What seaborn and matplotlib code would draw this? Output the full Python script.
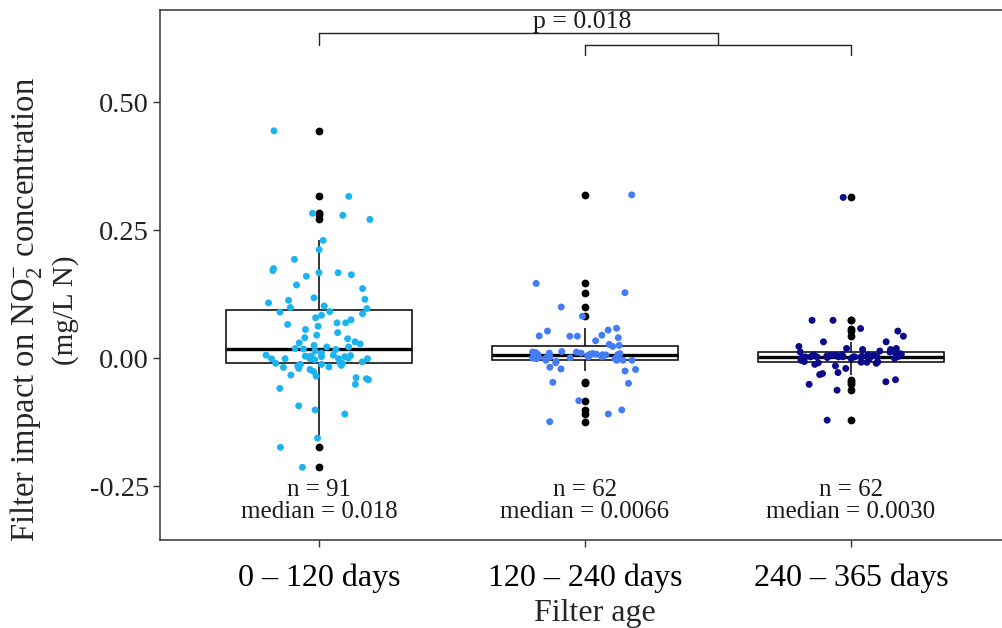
import numpy as np
import pandas as pd
import matplotlib
matplotlib.use("Agg")
import matplotlib.pyplot as plt
import seaborn as sns

# ---------------- data ----------------
categories = ["0 \u2013 120 days", "120 \u2013 240 days", "240 \u2013 365 days"]
colors = ["#1BB3F0", "#447CF6", "#0A0A8A"]

vals_0_120 = [
    0.444, 0.316, 0.283, 0.279, 0.271, 0.230, 0.212, 0.175, 0.193, 0.167,
    0.167, 0.163, 0.160, 0.171, 0.143, 0.136, 0.113, 0.118, 0.115, 0.108,
    0.091, 0.097, 0.099, 0.102, 0.087, 0.090, 0.084, 0.069, 0.069, 0.079,
    0.066, 0.0625, 0.056, 0.045, 0.040, 0.032, 0.038, 0.030, 0.022, 0.019,
    0.025, 0.018, 0.017, 0.004, -0.003, -0.010, 0.003, -0.007, -0.001, 0.003,
    -0.001, 0.004, 0.006, 0.003, -0.001, 0.006, -0.010, -0.014, -0.012, -0.009,
    -0.001, -0.001, -0.001, -0.020, -0.017, -0.033, -0.042, -0.040, -0.038, -0.035,
    -0.051, -0.059, -0.093, -0.101, -0.109, -0.156, -0.174, -0.213,
    -0.012, -0.015, -0.018, -0.022, -0.026, 0.000, 0.005, 0.010, 0.014,
    0.022, 0.028, 0.050, 0.075,
]
vals_120_240 = [
    0.319, 0.146, 0.128, 0.100, 0.082, 0.0586, 0.055, 0.053, 0.045, 0.0436,
    0.043, 0.040, 0.043, 0.034, 0.027, 0.025, 0.023, 0.012, 0.012, 0.010,
    0.0078, 0.006, 0.0078, 0.009, -0.004, -0.0007, -0.006, 0.0026, -0.004, -0.009,
    0.009, 0.0026, -0.0007, -0.004, 0.0078, 0.0026, -0.004, -0.022, -0.021, -0.0176,
    -0.025, -0.049, -0.047, -0.083, -0.109, -0.101, -0.124,
    0.0068, 0.007, 0.008, 0.010, 0.011, 0.013,
    -0.002, -0.001, 0.000, 0.001, 0.002, 0.003, 0.004, 0.005, 0.0064,
]
vals_240_365 = [
    0.314, 0.074, 0.074, 0.058, 0.053, 0.043, 0.032, 0.023, 0.032, 0.019,
    0.019, 0.014, 0.012, 0.017, 0.017, 0.012, 0.004, 0.0013, 0.0026, -0.0007,
    -0.004, -0.0007, 0.0026, 0.006, 0.007, 0.0026, 0.0026, 0.0026, 0.006, -0.010,
    -0.012, -0.009, -0.015, -0.028, -0.032, -0.042, -0.046, -0.051, -0.0625, -0.030,
    -0.020, -0.121, -0.0007, 0.007, 0.0026,
    -0.008, -0.0078, -0.0072, -0.0065,
    0.0032, 0.0035, 0.004, 0.0045, 0.005, 0.0055, 0.006, 0.007, 0.008, 0.009,
    0.0028, 0.002, 0.001,
]
n_labels = ["n = 91", "n = 62", "n = 62"]
median_labels = ["median = 0.018", "median = 0.0066", "median = 0.0030"]
p_label = "p = 0.018"
y_ticks = [-0.25, 0.00, 0.25, 0.50]

df = pd.DataFrame({
    "age": [categories[0]] * len(vals_0_120)
           + [categories[1]] * len(vals_120_240)
           + [categories[2]] * len(vals_240_365),
    "val": vals_0_120 + vals_120_240 + vals_240_365,
})

# ---------------- style ----------------
sns.set_theme(style="white")
plt.rcParams["font.family"] = ["Liberation Serif", "DejaVu Serif"]
plt.rcParams["mathtext.fontset"] = "custom"
plt.rcParams["mathtext.rm"] = "Liberation Serif"
plt.rcParams["mathtext.it"] = "Liberation Serif:italic"
plt.rcParams["axes.unicode_minus"] = False

W, H = 1002, 628
fig = plt.figure(figsize=(W / 100, H / 100), dpi=100)
ax = fig.add_axes([160 / W, (H - 540) / H, 850 / W, 530 / H])

sns.boxplot(
    data=df, x="age", y="val", order=categories, ax=ax,
    width=0.7, color="white", linecolor="black", linewidth=1.1,
    showcaps=False, saturation=1,
    flierprops=dict(marker="o", markerfacecolor="black", markeredgecolor="black",
                    markersize=4.6),
    medianprops=dict(linewidth=2.4, color="black"),
)
np.random.seed(7)
sns.stripplot(
    data=df, x="age", y="val", order=categories, hue="age", hue_order=categories,
    palette=colors, jitter=0.2, size=5, linewidth=0, legend=False, ax=ax,
)

ax.set_xlim(-0.598, 2.598)
ax.set_ylim(-0.355, 0.68)
ax.set_yticks(y_ticks)
ax.set_yticklabels([f"{t:.2f}" for t in y_ticks])
ax.tick_params(axis="y", labelsize=20.5, length=5, width=1, color="#333333",
               left=True, pad=3, labelcolor="#222222")
ax.tick_params(axis="x", labelsize=23, length=5, width=1, color="#333333",
               bottom=True, pad=12, labelcolor="black")
ax.set_xlabel("")
ax.set_ylabel("")
for s in ["left", "bottom", "top", "right"]:
    ax.spines[s].set_color("#333333")
    ax.spines[s].set_linewidth(1.1)

# n / median annotations
for i in range(3):
    ax.text(i, -0.258, n_labels[i], ha="center", va="center", fontsize=18,
            color="#1a1a1a")
    ax.text(i, -0.301, median_labels[i], ha="center", va="center", fontsize=18,
            color="#1a1a1a")

# significance bracket
lc = dict(color="#222222", linewidth=1.0)
ax.plot([1, 2], [0.611, 0.611], **lc)
ax.plot([1, 1], [0.611, 0.592], **lc)
ax.plot([2, 2], [0.611, 0.592], **lc)
ax.plot([0, 1.5], [0.635, 0.635], **lc)
ax.plot([0, 0], [0.635, 0.611], **lc)
ax.plot([1.5, 1.5], [0.635, 0.611], **lc)
ax.text(0.99, 0.656, p_label, ha="center", va="center", fontsize=18.5,
        color="#1a1a1a")

# axis titles
fig.text(26 / W, 1 - 310 / H, r"Filter impact on NO$_2^{\mathregular{-}}$ concentration",
         rotation=90, ha="center", va="center", fontsize=23.5)
fig.text(66 / W, 1 - 310 / H, "(mg/L N)", rotation=90, ha="center", va="center",
         fontsize=21)
fig.text(595 / W, 1 - 614 / H, "Filter age", ha="center", va="center", fontsize=23)

fig.savefig("out.png", dpi=100)
